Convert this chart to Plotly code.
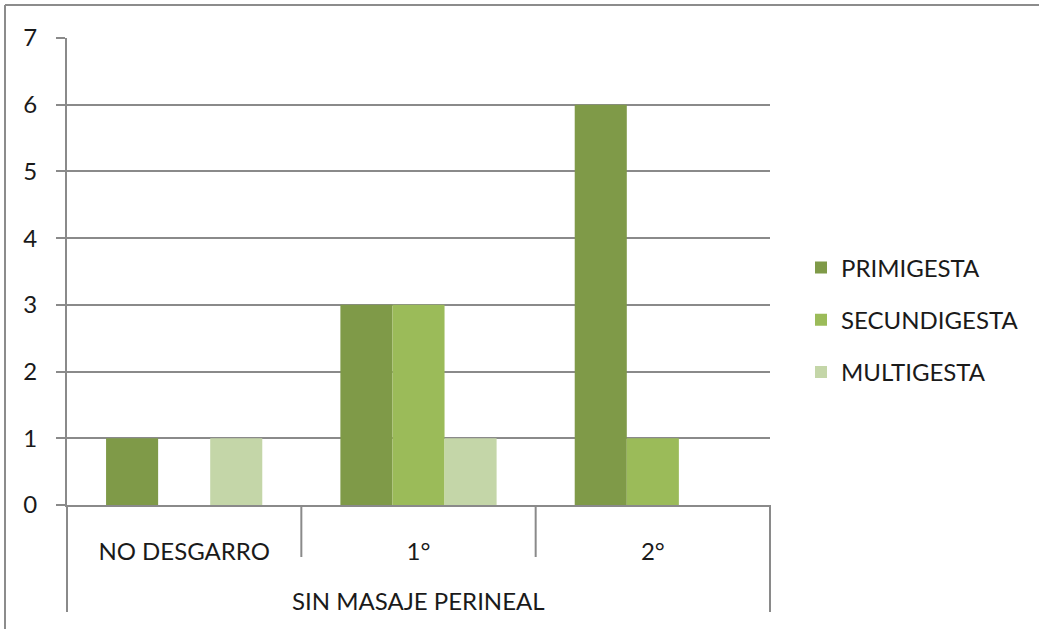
import plotly.graph_objects as go

categories = ["NO DESGARRO", "1°", "2°"]
outer_label = "SIN MASAJE PERINEAL"
series_names = ["PRIMIGESTA", "SECUNDIGESTA", "MULTIGESTA"]
primigesta = [1, 3, 6]
secundigesta = [0, 3, 1]
multigesta = [1, 1, 0]
colors = ["#7F9A48", "#9BBB59", "#C4D6A8"]
y_ticks = [0, 1, 2, 3, 4, 5, 6, 7]

W, H = 1039, 629
L, R, T, B = 67, 269, 38, 124
ph = H - T - B
pw = W - L - R

def py(px):  # pixel y -> paper y
    return (H - B - px) / ph

def pxx(px):
    return (px - L) / pw

GRID = "#8A8A8A"
FONT = "Lato"
FS = 24
TXT = "#1a1a1a"

fig = go.Figure()
for i, (name, vals) in enumerate(zip(series_names, [primigesta, secundigesta, multigesta])):
    fig.add_trace(go.Bar(
        x=categories, y=vals, name=name,
        marker=dict(color=colors[i], line=dict(width=0)),
        legendgroup=name,
    ))

shapes = []
# category dividers (short)
for b in [0.5, 1.5]:
    shapes.append(dict(type="line", xref="x", yref="paper", x0=b, x1=b,
                       y0=0, y1=py(557), line=dict(color=GRID, width=2)))
# outer dividers (long)
for xp in [0, 1]:
    shapes.append(dict(type="line", xref="paper", yref="paper", x0=xp, x1=xp,
                       y0=0, y1=py(612), line=dict(color=GRID, width=2)))
# outer chart border (top & left)
shapes.append(dict(type="line", xref="paper", yref="paper", x0=pxx(5), x1=pxx(1039),
                   y0=py(5), y1=py(5), line=dict(color="#8C8C8C", width=2)))
shapes.append(dict(type="line", xref="paper", yref="paper", x0=pxx(5), x1=pxx(5),
                   y0=py(5), y1=py(629), line=dict(color="#8C8C8C", width=2)))

fig.update_layout(
    width=W, height=H,
    margin=dict(l=L, r=R, t=T, b=B, pad=0, autoexpand=False),
    paper_bgcolor="white", plot_bgcolor="white",
    barmode="group", bargap=1/3, bargroupgap=0,
    font=dict(family=FONT, size=FS, color=TXT),
    shapes=shapes,
    annotations=[dict(text=outer_label, xref="paper", yref="paper",
                      x=0.5, y=py(600), xanchor="center", yanchor="middle",
                      showarrow=False, font=dict(family=FONT, size=FS, color=TXT))],
    legend=dict(x=pxx(801), y=py(320), xanchor="left", yanchor="middle",
                traceorder="grouped", tracegroupgap=18,
                font=dict(family=FONT, size=FS, color=TXT),
                bgcolor="rgba(0,0,0,0)"),
    showlegend=True,
)
fig.update_xaxes(type="category", showgrid=False, showline=True, linecolor=GRID, linewidth=2,
                 zeroline=False,
                 ticks="outside", ticklen=24, tickcolor="rgba(0,0,0,0)",
                 tickfont=dict(family=FONT, size=FS, color=TXT),
                 range=[-0.5, 2.5])
fig.update_yaxes(range=[0, 7], tickvals=y_ticks, showgrid=True, gridcolor=GRID, gridwidth=2,
                 showline=True, linecolor=GRID, linewidth=2, zeroline=False,
                 ticks="outside", ticklen=9, tickcolor=GRID, tickwidth=2,
                 ticklabelstandoff=14,
                 tickfont=dict(family=FONT, size=FS, color=TXT))

fig.write_html("out.html")
